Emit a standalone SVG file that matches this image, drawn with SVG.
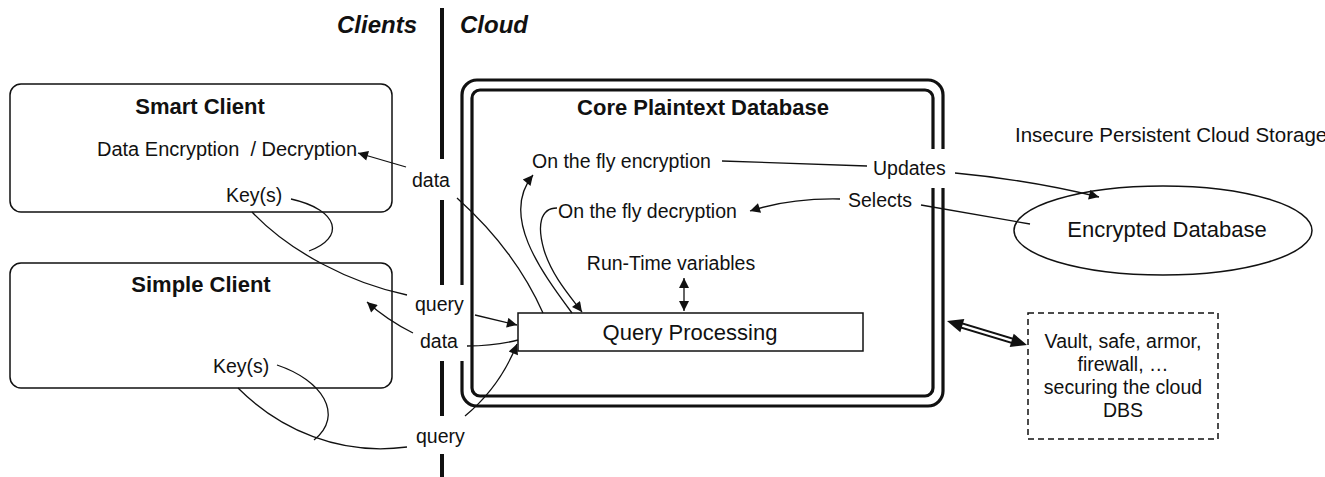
<svg xmlns="http://www.w3.org/2000/svg" width="1325" height="477" viewBox="0 0 1325 477">
<style>
text{font-family:"Liberation Sans",Arial,Helvetica,sans-serif;fill:#111}
.t{font-size:19.5px}
.tb{font-size:22px;font-weight:bold}
.tl{font-size:22px}
.hd{font-size:24px;font-weight:bold;font-style:italic}
.box{fill:#fff;stroke:#111;stroke-width:1.5}
.dbl{fill:none;stroke:#111;stroke-width:3.2}
.div{stroke:#111;stroke-width:4}
.c{fill:none;stroke:#111;stroke-width:1.3}
.ca{fill:none;stroke:#111;stroke-width:1.3;marker-end:url(#ah)}
</style>
<defs>
<marker id="ah" viewBox="0 0 10 10" refX="10" refY="5" markerWidth="15" markerHeight="10" markerUnits="userSpaceOnUse" orient="auto-start-reverse"><path d="M0,0 L10,5 L0,10 z" fill="#111"/></marker>
</defs>
<rect width="1325" height="477" fill="#fff"/>

<g id="divider">
<line class="div" x1="442" y1="8" x2="442" y2="159"/>
<line class="div" x1="442" y1="200" x2="442" y2="285"/>
<line class="div" x1="442" y1="361" x2="442" y2="416"/>
<line class="div" x1="442" y1="454" x2="442" y2="477"/>
<text class="hd" x="417" y="33" text-anchor="end">Clients</text>
<text class="hd" x="460" y="33">Cloud</text>
</g>

<g id="smart-client">
<rect class="box" x="10" y="84" width="382" height="128" rx="11"/>
<text class="tb" x="200" y="114" text-anchor="middle">Smart Client</text>
<text class="t" x="97" y="156" xml:space="preserve" style="font-size:20px">Data Encryption  / Decryption</text>
<text class="t" x="226" y="202">Key(s)</text>
</g>

<g id="simple-client">
<rect class="box" x="10" y="263" width="382" height="125" rx="11"/>
<text class="tb" x="201" y="292" text-anchor="middle">Simple Client</text>
<text class="t" x="213" y="373">Key(s)</text>
</g>

<g id="core-db">
<path class="dbl" d="M462,285 L462,95 A15,15 0 0 1 477,80 L928,80 A15,15 0 0 1 943,95 L943,149"/>
<path class="dbl" d="M943,188 L943,391 A15,15 0 0 1 928,406 L477,406 A15,15 0 0 1 462,391 L462,361"/>
<path class="dbl" d="M933,149 L933,98 A8,8 0 0 0 925,90 L480,90 A8,8 0 0 0 472,98 L472,388 A8,8 0 0 0 480,396 L925,396 A8,8 0 0 0 933,388 L933,188"/>
<text class="tb" x="703" y="115" text-anchor="middle">Core Plaintext Database</text>
<text class="t" x="532" y="168">On the fly encryption</text>
<text class="t" x="558" y="218">On the fly decryption</text>
<text class="t" x="671" y="270" text-anchor="middle">Run-Time variables</text>
</g>

<g id="query-processing">
<rect class="box" x="518" y="313" width="345" height="38"/>
<text class="tl" x="690" y="340" text-anchor="middle">Query Processing</text>
</g>

<g id="encrypted-db">
<text class="t" x="1015" y="142" style="font-size:20.5px">Insecure Persistent Cloud Storage</text>
<ellipse cx="1163" cy="230.5" rx="149" ry="44.5" fill="#fff" stroke="#111" stroke-width="1.5"/>
<text class="tl" x="1167" y="237" text-anchor="middle">Encrypted Database</text>
</g>

<g id="vault">
<rect x="1028" y="313" width="190" height="126" fill="#fff" stroke="#111" stroke-width="1.5" stroke-dasharray="6,4"/>
<text class="t" x="1123" y="348" text-anchor="middle">Vault, safe, armor,</text>
<text class="t" x="1123" y="371" text-anchor="middle">firewall, …</text>
<text class="t" x="1123" y="394" text-anchor="middle">securing the cloud</text>
<text class="t" x="1123" y="417" text-anchor="middle">DBS</text>
</g>

<g id="connectors">
<text class="t" x="412" y="187">data</text>
<text class="t" x="415" y="311">query</text>
<text class="t" x="420" y="348">data</text>
<text class="t" x="416" y="443">query</text>
<text class="t" x="873" y="175">Updates</text>
<text class="t" x="848" y="207">Selects</text>

<path class="ca" d="M406,167 L358,153"/>
<path class="c" d="M457,198 Q515,250 543,313"/>
<path class="c" d="M291,199 C340,210 345,238 309,251"/>
<path class="c" d="M252,212 C290,252 350,283 407,295"/>
<path class="ca" d="M475,315 L517,325"/>
<path class="ca" d="M413,333 Q387,320 367,302"/>
<path class="c" d="M467,346 Q495,346 518,340"/>
<path class="c" d="M277,365 C322,380 345,415 314,440"/>
<path class="c" d="M238,388 C280,430 340,456 407,447"/>
<path class="ca" d="M465,416 Q500,387 517,344"/>
<path class="ca" d="M572,313 C540,270 500,215 533,175"/>
<path class="ca" d="M557,208 C540,208 537,226 544,250 C552,276 570,296 582,312"/>
<line class="c" x1="684" y1="278" x2="684" y2="311" style="marker-start:url(#ah);marker-end:url(#ah)"/>
<path class="c" d="M722,161 L867,166"/>
<path class="ca" d="M955,173 Q1030,180 1099,197"/>
<path class="ca" d="M840,199 Q790,198 750,211"/>
<path class="c" d="M921,205 L1030,224"/>
<line x1="960" y1="325" x2="1013" y2="341" stroke="#111" stroke-width="6.5"/>
<line x1="958" y1="324.4" x2="1015" y2="341.6" stroke="#fff" stroke-width="2.5"/>
<polygon points="947,321 960.3,332.3 964.3,318.9" fill="#111"/>
<polygon points="1027,345 1009.7,347.1 1013.7,333.7" fill="#111"/>
</g>
</svg>
